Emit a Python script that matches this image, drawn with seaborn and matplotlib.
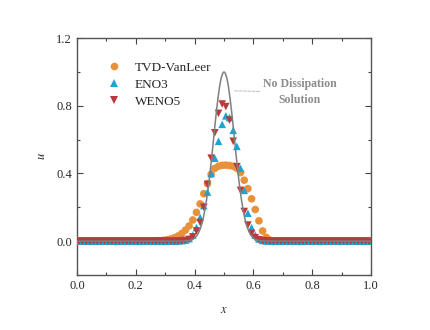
import numpy as np
import pandas as pd
import matplotlib
matplotlib.use("Agg")
import matplotlib.pyplot as plt
import seaborn as sns
from matplotlib.ticker import MultipleLocator, FormatStrFormatter

# cell centres of the 80-cell grid
x_cells = (np.arange(80) + 0.5) / 80

tvd_vanleer = [0.0] * 20 + [
    0.001, 0.002, 0.003, 0.005, 0.008, 0.013, 0.02, 0.03, 0.045, 0.065,
    0.09, 0.125, 0.17, 0.22, 0.28, 0.34, 0.395, 0.43, 0.443, 0.448,
    0.449, 0.447, 0.442, 0.43, 0.405, 0.36, 0.31, 0.25, 0.187, 0.12,
    0.06, 0.022, 0.006, 0.001] + [0.0] * 26

eno3 = [0.0] * 27 + [
    0.001, 0.003, 0.006, 0.015, 0.035, 0.08, 0.14, 0.21, 0.29, 0.40,
    0.49, 0.59, 0.69, 0.74, 0.73, 0.655, 0.56, 0.43, 0.30, 0.165,
    0.08, 0.035, 0.013, 0.004, 0.001] + [0.0] * 28

weno5 = [0.0] * 28 + [
    0.001, 0.004, 0.01, 0.025, 0.06, 0.11, 0.20, 0.335, 0.49, 0.64,
    0.755, 0.81, 0.795, 0.715, 0.59, 0.44, 0.30, 0.175, 0.095, 0.045,
    0.02, 0.008, 0.003, 0.001] + [0.0] * 28

# no dissipation (exact) solution
x_exact = [0.0, 0.36, 0.38, 0.39] + list(np.round(np.arange(0.40, 0.6001, 0.005), 3)) + [0.61, 0.62, 0.64, 1.0]
u_exact = [0.0, 0.0004, 0.003, 0.008,
           0.018, 0.027, 0.039, 0.056, 0.077, 0.105, 0.141, 0.185, 0.237, 0.298,
           0.368, 0.445, 0.527, 0.613, 0.698, 0.779, 0.852, 0.914, 0.961, 0.990, 1.0,
           0.990, 0.961, 0.914, 0.852, 0.779, 0.698, 0.613, 0.527, 0.445, 0.368,
           0.298, 0.237, 0.185, 0.141, 0.105, 0.077, 0.056, 0.039, 0.027, 0.018,
           0.008, 0.003, 0.0004, 0.0]

schemes = ['TVD-VanLeer', 'ENO3', 'WENO5']
colors = {'TVD-VanLeer': '#E8913A', 'ENO3': '#1AA6D5', 'WENO5': '#B93A3C'}
markers = {'TVD-VanLeer': 'o', 'ENO3': '^', 'WENO5': 'v'}

df = pd.DataFrame({
    'x': np.tile(x_cells, 3),
    'u': tvd_vanleer + eno3 + weno5,
    'scheme': np.repeat(schemes, 80),
})
df_exact = pd.DataFrame({'x': x_exact, 'u': u_exact})

sns.set_style("white")
plt.rcParams['font.family'] = ['Liberation Serif', 'DejaVu Serif']
plt.rcParams['mathtext.fontset'] = 'stix'

fig = plt.figure(figsize=(4.31, 3.30), dpi=100)
ax = fig.add_axes([0.1787, 0.1667, 0.6821, 0.7181])

sns.scatterplot(data=df, x='x', y='u', hue='scheme', style='scheme',
                palette=colors, markers=markers, hue_order=schemes,
                style_order=schemes, s=30, linewidth=0, ax=ax, zorder=3)
sns.lineplot(data=df_exact, x='x', y='u', color='#7f7f7f', lw=1.1,
             ax=ax, zorder=4, legend=False)

ax.annotate('No Dissipation\nSolution', xy=(0.533, 0.888), xytext=(0.758, 0.88),
            ha='center', va='center', fontsize=8.5, fontweight='bold', color='#8c8c8c',
            linespacing=1.5,
            arrowprops=dict(arrowstyle='-', color='#b0b0b0', lw=0.6, ls='--',
                            shrinkA=24, shrinkB=0))

ax.set_xlim(0, 1)
ax.set_ylim(-0.2, 1.2)
ax.xaxis.set_major_locator(MultipleLocator(0.2))
ax.xaxis.set_minor_locator(MultipleLocator(0.1))
ax.yaxis.set_major_locator(MultipleLocator(0.4))
ax.yaxis.set_minor_locator(MultipleLocator(0.2))
ax.set_yticks([0.0, 0.4, 0.8, 1.2])
ax.tick_params(which='both', direction='in', top=True, right=True, labelsize=9,
               color='#444444', bottom=True, left=True)
ax.tick_params(which='major', length=4, width=0.8)
ax.tick_params(which='minor', length=2.5, width=0.8)
ax.xaxis.set_major_formatter(FormatStrFormatter('%.1f'))
ax.yaxis.set_major_formatter(FormatStrFormatter('%.1f'))
for sp in ax.spines.values():
    sp.set_color('#555555')
    sp.set_linewidth(1.0)

ax.set_xlabel('$x$', fontsize=9, labelpad=9)
ax.set_ylabel('$u$', fontsize=9, labelpad=6)

ax.legend(loc='upper left', bbox_to_anchor=(0.04, 0.95), frameon=False,
          fontsize=9.5, handletextpad=0.6, labelspacing=0.35, markerscale=1.0)

plt.savefig('out.png', dpi=100)
